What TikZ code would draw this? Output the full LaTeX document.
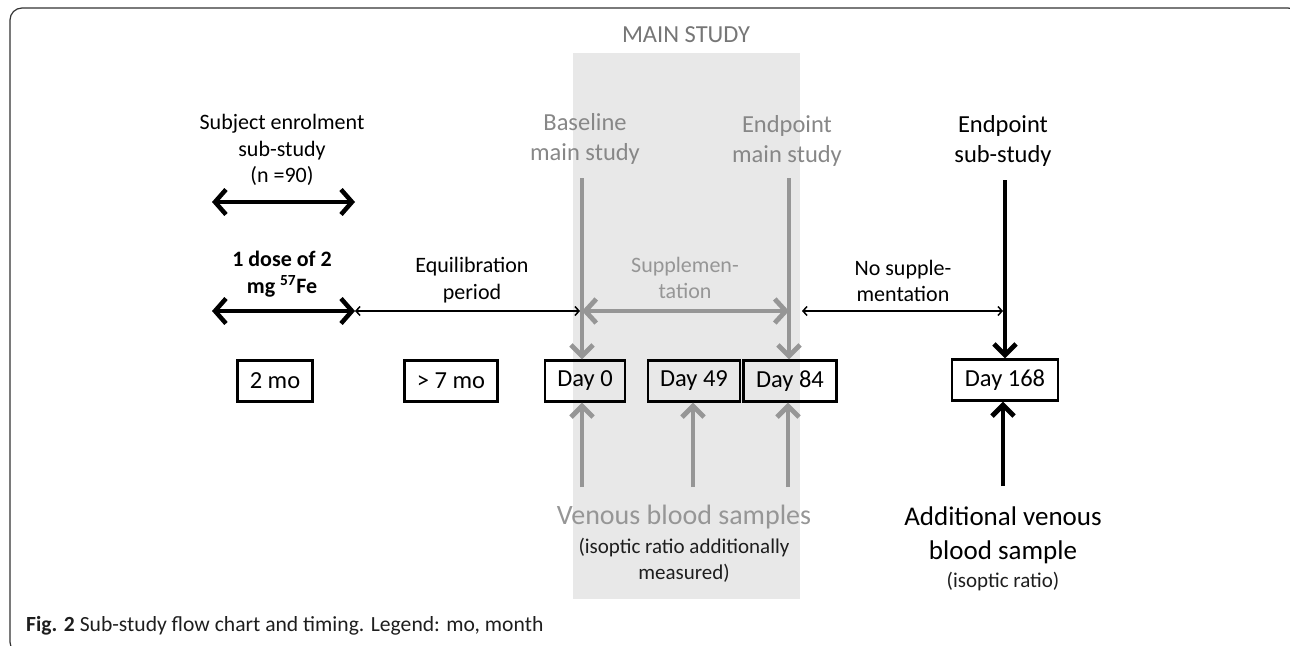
\documentclass[tikz,border=0pt]{standalone}
\usepackage{fontspec}
\setmainfont{Carlito}
\usetikzlibrary{arrows.meta}
\definecolor{lgray}{RGB}{150,150,150}
\definecolor{tgray}{RGB}{135,135,135}
\definecolor{hgray}{RGB}{118,118,118}
\definecolor{bgray}{RGB}{232,232,232}
\definecolor{dtext}{RGB}{30,30,30}
\tikzset{
  lbl/.style={align=center, inner sep=0pt, font=\fontsize{22}{26.7}\selectfont},
  hlbl/.style={align=center, inner sep=0pt, font=\fontsize{24.5}{30}\selectfont},
  daybox/.style={draw=black, line width=2.4pt, minimum height=41pt, inner sep=0pt, font=\fontsize{24.5}{28}\selectfont},
  bigtip/.style={line width=4.5pt, {Straight Barb[length=11pt,width=25pt]}-{Straight Barb[length=11pt,width=25pt]}},
  thin/.style={line width=1.5pt, {Straight Barb[length=4pt,width=9pt]}-{Straight Barb[length=4pt,width=9pt]}},
  vdown/.style={line width=4.8pt, -{Straight Barb[length=11pt,width=22pt]}},
}
\begin{document}
\begin{tikzpicture}[x=1pt,y=-1pt]
\useasboundingbox (0,0) rectangle (1290,645);
% outer frame
\draw[line width=1.2pt, rounded corners=12pt, color=black!80] (10,8) rectangle (1300,654);
% main study background
\fill[bgray] (573,53) rectangle (800,599);
\node[hlbl, text=hgray] (title) at (686,35) {MAIN STUDY};

% left labels
\node[lbl] (enrol) at (282,150) {Subject enrolment\\sub-study\\(n =90)};
\node[lbl, font=\bfseries\fontsize{22}{26.7}\selectfont] (dose) at (282,274) {1 dose of 2\\mg \textsuperscript{57}Fe};
\node[lbl] (equil) at (472,280) {Equilibration\\period};
\node[hlbl, text=tgray] (base) at (585,139) {Baseline\\main study};
\node[hlbl, text=tgray] (endm) at (787,141) {Endpoint\\main study};
\node[hlbl] (ends) at (1003,141) {Endpoint\\sub-study};
\node[lbl, text=lgray] (supp) at (685,278) {Supplemen-\\tation};
\node[lbl] (nosupp) at (903,281) {No supple-\\mentation};

% day boxes
\node[daybox, minimum width=75pt] (mo2) at (275,381) {2 mo};
\node[daybox, minimum width=93pt] (mo7) at (451,381) {> 7 mo};
\node[daybox, minimum width=80pt] (d0) at (585,381) {Day 0};
\node[daybox, minimum width=92pt] (d49) at (694,381) {Day 49};
\node[daybox, minimum width=93pt] (d84) at (790,381) {Day 84};
\node[daybox, minimum width=106pt] (d168) at (1005,380) {Day 168};

% bottom labels
\node[inner sep=0pt, text=lgray, font=\fontsize{28}{32}\selectfont] (venous) at (684,517) {Venous blood samples};
\node[lbl, text=dtext, font=\fontsize{21}{26}\selectfont] (venoussub) at (684,560) {(isoptic ratio additionally\\measured)};
\node[align=center, inner sep=0pt, font=\fontsize{27}{34}\selectfont] (addit) at (1003,535) {Additional venous\\blood sample};
\node[inner sep=0pt, text=dtext, font=\fontsize{21}{24}\selectfont] (additsub) at (1003,582) {(isoptic ratio)};

% caption
\node[anchor=west, inner sep=0pt, text=dtext, font=\fontsize{21.6}{24}\selectfont] (caption) at (26,626) {\textbf{Fig. 2} Sub-study flow chart and timing. Legend: mo, month};

% coordinates
\coordinate (a1l) at (212,202);
\coordinate (a1r) at (355,202);
\coordinate (a2l) at (212,311);
\coordinate (a2r) at (355,311);
\coordinate (bt) at (582,178);
\coordinate (et) at (789,178);
\coordinate (st) at (1005,180);
\coordinate (bm) at (582,311);
\coordinate (em) at (789,311);
\coordinate (eqr) at (580,311);
\coordinate (nsl) at (802,311);
\coordinate (nsr) at (1003,311);
\coordinate (u0) at (582,487);
\coordinate (u49) at (693,487);
\coordinate (u84) at (788,487);
\coordinate (u168) at (1003,486);

% arrows
\draw[bigtip] (a1l) -- (a1r);
\draw[thin] (a2r) -- (eqr);
\draw[bigtip] (a2l) -- (a2r);
\draw[thin] (nsl) -- (nsr);
\draw[vdown, lgray] (bt) -- (bt |- d0.north);
\draw[vdown, lgray] (et) -- (et |- d84.north);
\draw[vdown, black] (st) -- (st |- d168.north);
\draw[lgray, line width=4.8pt, {Straight Barb[length=11pt,width=24pt]}-{Straight Barb[length=11pt,width=24pt]}] (bm) -- (em);
\draw[vdown, lgray] (u0) -- (u0 |- d0.south);
\draw[vdown, lgray] (u49) -- (u49 |- d49.south);
\draw[vdown, lgray] (u84) -- (u84 |- d84.south);
\draw[vdown, black] (u168) -- (u168 |- d168.south);
\end{tikzpicture}
\end{document}
